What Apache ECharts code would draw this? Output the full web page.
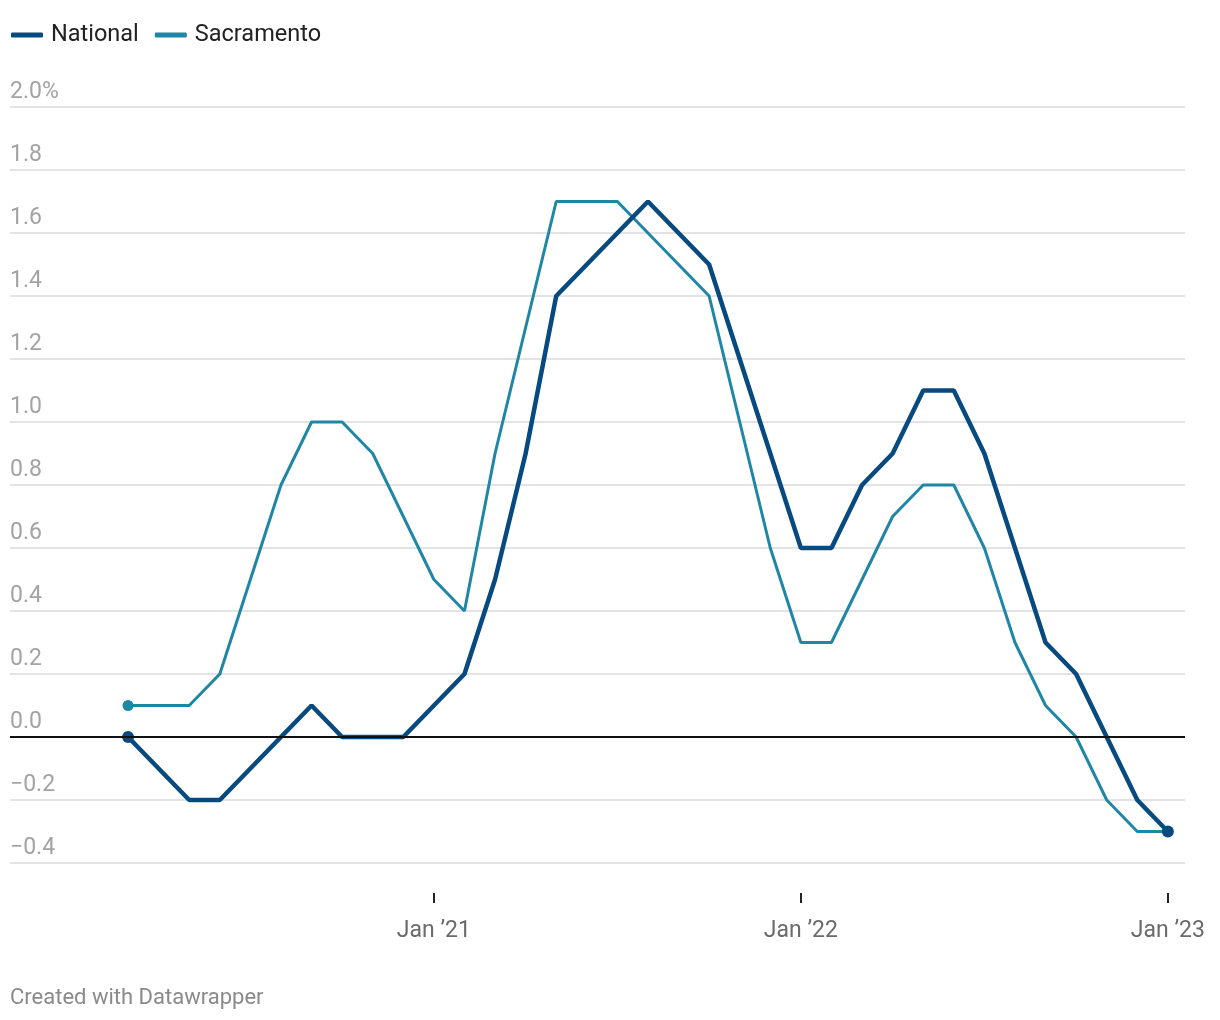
<!DOCTYPE html>
<html>
<head>
<meta charset="utf-8">
<script src="https://cdn.jsdelivr.net/npm/echarts@6/dist/echarts.min.js"></script>
<style>
html,body{margin:0;padding:0;background:#fff;}
#chart{width:1220px;height:1020px;}
</style>
</head>
<body>
<div id="chart"></div>
<script>
// Months from Mar 2020 to Jan 2023
const months = ['2020-03','2020-04','2020-05','2020-06','2020-07','2020-08','2020-09','2020-10','2020-11','2020-12',
  '2021-01','2021-02','2021-03','2021-04','2021-05','2021-06','2021-07','2021-08','2021-09','2021-10','2021-11','2021-12',
  '2022-01','2022-02','2022-03','2022-04','2022-05','2022-06','2022-07','2022-08','2022-09','2022-10','2022-11','2022-12',
  '2023-01'];
const national = [0, -0.1, -0.2, -0.2, -0.1, 0, 0.1, 0, 0, 0,
  0.1, 0.2, 0.5, 0.9, 1.4, 1.5, 1.6, 1.7, 1.6, 1.5, 1.2, 0.9,
  0.6, 0.6, 0.8, 0.9, 1.1, 1.1, 0.9, 0.6, 0.3, 0.2, 0.0, -0.2,
  -0.3];
const sacramento = [0.1, 0.1, 0.1, 0.2, 0.5, 0.8, 1.0, 1.0, 0.9, 0.7,
  0.5, 0.4, 0.9, 1.3, 1.7, 1.7, 1.7, 1.6, 1.5, 1.4, 1.0, 0.6,
  0.3, 0.3, 0.5, 0.7, 0.8, 0.8, 0.6, 0.3, 0.1, 0.0, -0.2, -0.3,
  -0.3];
const xTickMonths = ['2021-01','2022-01','2023-01'];
const xTickLabels = ['Jan \u201921','Jan \u201922','Jan \u201923'];
const yTicks = [-0.4,-0.2,0,0.2,0.4,0.6,0.8,1.0,1.2,1.4,1.6,1.8,2.0];

const natColor = '#074a80';
const sacColor = '#1f86a5';

const natData = national.map((v,i)=>[i,v]);
const sacData = sacramento.map((v,i)=>[i,v]);
const tickIdx = xTickMonths.map(m=>months.indexOf(m));
const lastIdx = months.length-1;

const chart = echarts.init(document.getElementById('chart'), null, {renderer:'canvas'});
chart.setOption({
  animation:false,
  textStyle:{fontFamily:'Roboto'},
  legend:{
    left:6, top:18, itemWidth:32, itemHeight:5, itemGap:16,
    icon:'roundRect',
    textStyle:{fontSize:23.5, color:'#222', fontFamily:'Roboto', padding:[0,0,0,3]},
    data:[{name:'National', itemStyle:{color:natColor}},{name:'Sacramento', itemStyle:{color:sacColor}}]
  },
  graphic:[{
    type:'text', left:10, top:987,
    style:{text:'Created with Datawrapper', fontSize:22, fill:'#8a8a8a', fontFamily:'Roboto'}
  }],
  grid:{left:10, right:35, top:107, bottom:157, containLabel:false},
  xAxis:{
    type:'value', min:-3.86, max:34.56,
    offset:30,
    axisLine:{show:false, onZero:false},
    splitLine:{show:false},
    axisTick:{show:true, customValues:tickIdx, length:10, lineStyle:{color:'#222', width:2}},
    axisLabel:{
      customValues:tickIdx, margin:27, fontSize:23, color:'#6b6b6b', fontFamily:'Roboto',
      formatter:function(v){ const k = tickIdx.indexOf(Math.round(v)); return k>=0 ? xTickLabels[k] : ''; }
    }
  },
  yAxis:{
    type:'value', min:-0.4, max:2.0, interval:0.2,
    axisLine:{show:false}, axisTick:{show:false},
    splitLine:{lineStyle:{color:'#e3e3e3', width:2}},
    axisLabel:{
      inside:true, margin:0, verticalAlign:'bottom', padding:[0,0,3,0],
      fontSize:23, color:'#a3a3a3', fontFamily:'Roboto',
      formatter:function(v){
        const r = Math.round(v*10)/10;
        let s = Math.abs(r).toFixed(1);
        if (r < 0) s = '\u2212' + s;
        if (Math.abs(r-2.0)<1e-9) s += '%';
        return s;
      }
    }
  },
  series:[
    {
      name:'Sacramento', type:'line', data:sacData, z:2,
      lineStyle:{color:sacColor, width:3}, itemStyle:{color:sacColor},
      showSymbol:true, symbol:'circle', symbolSize:function(v,p){ return p.dataIndex===0 ? 11 : 0; },
      markLine:{
        silent:true, symbol:'none', label:{show:false},
        lineStyle:{color:'#111', width:2, type:'solid'},
        data:[{yAxis:0}]
      }
    },
    {
      name:'National', type:'line', data:natData, z:3,
      lineStyle:{color:natColor, width:4.5}, itemStyle:{color:natColor},
      showSymbol:true, symbol:'circle',
      symbolSize:function(v,p){ return (p.dataIndex===0 || p.dataIndex===lastIdx) ? 12 : 0; }
    }
  ]
});
</script>
</body>
</html>
